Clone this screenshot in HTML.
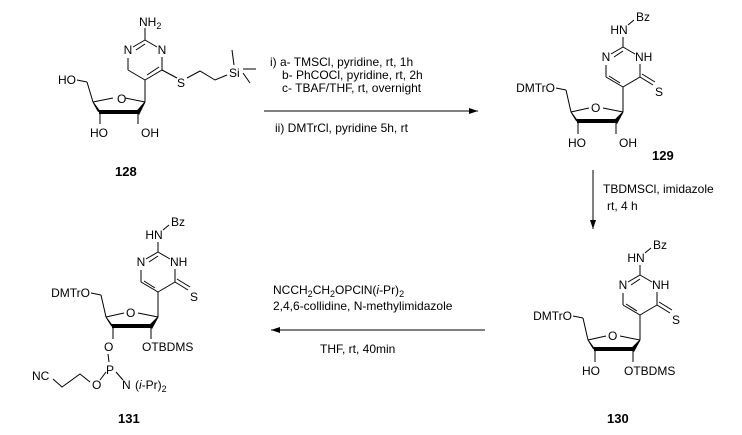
<!DOCTYPE html>
<html><head><meta charset="utf-8"><style>
html,body{margin:0;padding:0;background:#fff;}
svg{display:block;}
text{font-family:"Liberation Sans",Arial,sans-serif;font-size:12px;fill:#000;}
.b{font-weight:bold;font-size:13px;}
line,polyline{stroke:#000;stroke-width:1;fill:none;}
</style></head><body>
<svg width="742" height="435" viewBox="0 0 742 435" xmlns="http://www.w3.org/2000/svg">
<defs>
<marker id="ah" markerWidth="10" markerHeight="8" refX="9" refY="4" orient="auto" markerUnits="userSpaceOnUse">
<path d="M0,1 L9,4 L0,7 Z" fill="#000"/>
</marker>
</defs>

<!-- 128 -->
<g transform="translate(145,80)">
<line x1="0" y1="-40" x2="12" y2="-33"/>
<line x1="17" y1="-23" x2="17" y2="-10"/>
<line x1="17" y1="-10" x2="0" y2="0"/>
<line x1="14" y1="-13" x2="2" y2="-5"/>
<line x1="0" y1="0" x2="-17" y2="-10"/>
<line x1="-17" y1="-10" x2="-17" y2="-22"/>
<line x1="-12" y1="-33" x2="0" y2="-40"/>
<line x1="-9" y1="-30" x2="0" y2="-36"/>
<text x="-17" y="-26" text-anchor="middle">N</text>
<text x="17" y="-26" text-anchor="middle">N</text>
<line x1="0" y1="-40" x2="0" y2="-52"/>
<text x="-6" y="-54">NH<tspan font-size="9" dy="3">2</tspan></text>
<line x1="17" y1="-10" x2="32" y2="-2"/>
<text x="32" y="7">S</text>
<polyline points="42,-2 55,-9 70,0 82,-5"/>
<text x="84" y="-3">Si</text>
<line x1="87" y1="-30" x2="89" y2="-15"/>
<line x1="98" y1="-11" x2="111" y2="-11"/>
<line x1="98" y1="-7" x2="105" y2="3"/>
<line x1="0" y1="0" x2="0" y2="22"/>
<line x1="0" y1="22" x2="-20" y2="18"/>
<text x="-28" y="23">O</text>
<line x1="-32" y1="18" x2="-52" y2="22"/>
<polygon points="-52,22 -44,33 -47,31" fill="#000" stroke="#000"/>
<line x1="-46" y1="32" x2="-6" y2="32" style="stroke-width:4"/>
<polygon points="0,22 -6,34 -8,31" fill="#000" stroke="#000"/>
<line x1="-52" y1="22" x2="-58" y2="2"/>
<line x1="-58" y1="2" x2="-68" y2="0"/>
<text x="-69" y="4" text-anchor="end">HO</text>
<line x1="-45" y1="32" x2="-45" y2="44"/>
<line x1="-7" y1="32" x2="-7" y2="44"/>
<text x="-55" y="57">HO</text>
<text x="-4" y="57">OH</text>
</g>
<text x="115" y="176" class="b">128</text>

<!-- template-based structures -->
<g id="t129" transform="translate(623,87)">
<line x1="0" y1="-40" x2="12" y2="-33"/>
<line x1="17" y1="-23" x2="17" y2="-10"/>
<line x1="17" y1="-10" x2="0" y2="0"/>
<line x1="0" y1="0" x2="-17" y2="-10"/>
<line x1="-3" y1="-4" x2="-14" y2="-11"/>
<line x1="-17" y1="-10" x2="-17" y2="-22"/>
<line x1="-12" y1="-33" x2="0" y2="-40"/>
<line x1="-9" y1="-30" x2="0" y2="-36"/>
<text x="-17" y="-26" text-anchor="middle">N</text>
<text x="12" y="-26">NH</text>
<line x1="0" y1="-40" x2="0" y2="-50"/>
<text x="-4" y="-53" text-anchor="middle">HN</text>
<line x1="5" y1="-62" x2="11" y2="-67"/>
<text x="13" y="-66">Bz</text>
<line x1="17" y1="-10" x2="30" y2="-2"/>
<line x1="19" y1="-13" x2="32" y2="-5"/>
<text x="32" y="9">S</text>
<line x1="0" y1="0" x2="0" y2="25"/>
<line x1="0" y1="25" x2="-20" y2="21"/>
<text x="-32" y="25">O</text>
<line x1="-34" y1="21" x2="-52" y2="25"/>
<polygon points="-52,25 -44,36 -47,33" fill="#000" stroke="#000"/>
<line x1="-46" y1="34" x2="-6" y2="34" style="stroke-width:4"/>
<polygon points="0,25 -6,36 -8,33" fill="#000" stroke="#000"/>
<line x1="-52" y1="25" x2="-57" y2="3"/>
<line x1="-57" y1="3" x2="-67" y2="1"/>
<text x="-68" y="5" text-anchor="end">DMTrO</text>
<line x1="-45" y1="34" x2="-45" y2="47"/>
<line x1="-7" y1="34" x2="-7" y2="47"/>
</g>
<g transform="translate(623,87)">
<text x="-55" y="60">HO</text>
<text x="-4" y="60">OH</text>
</g>
<text x="652" y="160" class="b">129</text>

<g transform="translate(17,228)"><use href="#t129"/></g>
<g transform="translate(640,315)">
<text x="-58" y="60">HO</text>
<text x="-16" y="60">OTBDMS</text>
</g>
<text x="607" y="423" class="b">130</text>

<g transform="translate(-465,205)"><use href="#t129"/></g>
<g transform="translate(158,292)">
<text x="-54" y="59">O</text>
<text x="-16" y="59">OTBDMS</text>
<line x1="-50" y1="62" x2="-49" y2="70"/>
<text x="-52" y="82">P</text>
<line x1="-42" y1="80" x2="-35" y2="88"/>
<text x="-36" y="97">N</text>
<text x="-23" y="97">(<tspan font-style="italic">i</tspan>-Pr)<tspan font-size="9" dy="3">2</tspan></text>
<line x1="-52" y1="80" x2="-58" y2="88"/>
<text x="-66" y="97">O</text>
<polyline points="-68,90 -78,82 -96,95 -105,87"/>
<text x="-126" y="88">NC</text>
</g>
<text x="118" y="423" class="b">131</text>

<!-- arrows & reagents -->
<line x1="264" y1="111" x2="478" y2="111" marker-end="url(#ah)"/>
<text x="270" y="66">i) a- TMSCl, pyridine, rt, 1h</text>
<text x="282" y="79">b- PhCOCl, pyridine, rt, 2h</text>
<text x="282" y="92">c- TBAF/THF, rt, overnight</text>
<text x="275" y="132">ii) DMTrCl, pyridine 5h, rt</text>

<line x1="593" y1="170" x2="593" y2="229" marker-end="url(#ah)"/>
<text x="603" y="193">TBDMSCl, imidazole</text>
<text x="607" y="210">rt, 4 h</text>

<line x1="485" y1="330" x2="271" y2="330" marker-end="url(#ah)"/>
<text x="273" y="294">NCCH<tspan font-size="9" dy="3">2</tspan><tspan dy="-3">CH</tspan><tspan font-size="9" dy="3">2</tspan><tspan dy="-3">OPClN(</tspan><tspan font-style="italic">i</tspan>-Pr)<tspan font-size="9" dy="3">2</tspan></text>
<text x="273" y="310">2,4,6-collidine, N-methylimidazole</text>
<text x="320" y="353">THF, rt, 40min</text>
</svg>
</body></html>
